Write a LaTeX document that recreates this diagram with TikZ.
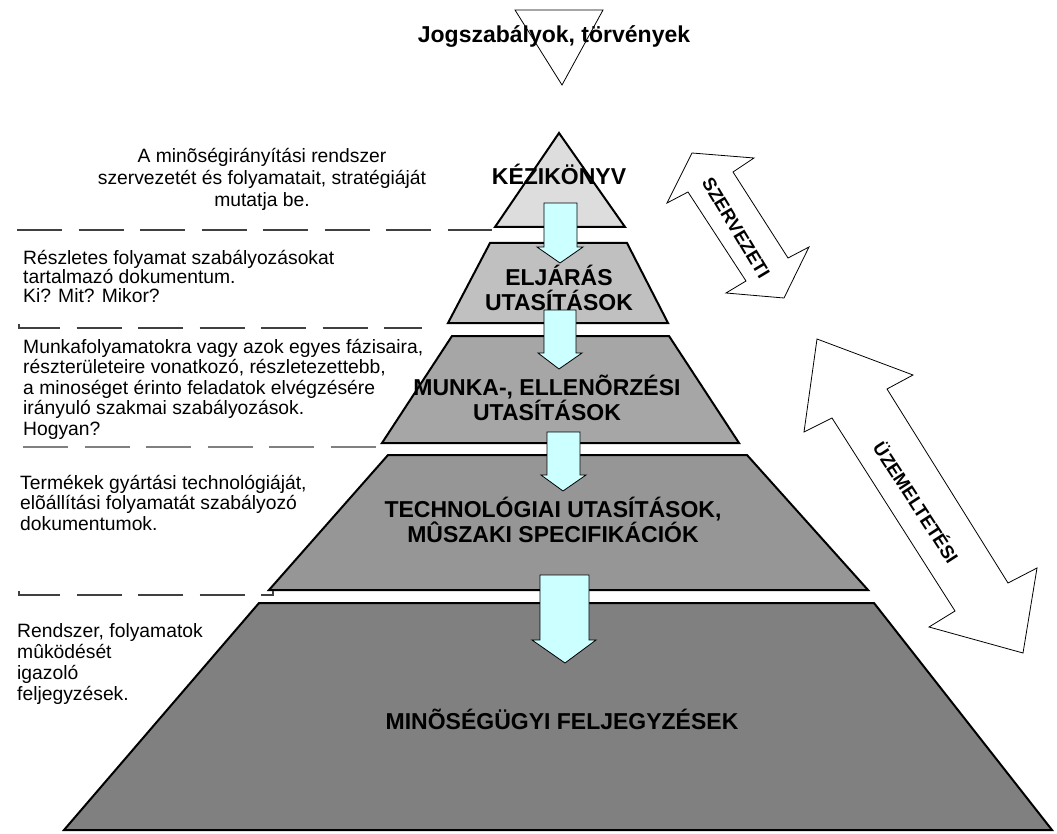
\documentclass[tikz,border=0pt]{standalone}
\usepackage{fontspec}
\setmainfont{Liberation Sans}
\usetikzlibrary{positioning}
\definecolor{reteg1}{HTML}{DDDDDD}
\definecolor{reteg2}{HTML}{C0C0C0}
\definecolor{reteg3}{HTML}{A6A6A6}
\definecolor{reteg4}{HTML}{969696}
\definecolor{reteg5}{HTML}{808080}
\definecolor{halvanykek}{HTML}{CCFFFF}

\begin{document}
\begin{tikzpicture}[x=1pt, y=-1pt,
	reteg/.style={draw=black, line width=2pt},
	lenyil/.style={draw=black, line width=0.8pt, fill=halvanykek},
	ketnyil/.style={draw=black, line width=0.8pt, fill=white},
	szaggatott/.style={draw=black!75, line width=1.4pt, dash pattern=on 45pt off 16.5pt}]
	\useasboundingbox (0,0) rectangle (1057,834);

	\draw[line width=0.8pt] (515,10) -- (603,10) -- (562,85) -- cycle;

	\draw[reteg, fill=reteg1] (559,133) -- (625,227) -- (495,227) -- cycle;
	\draw[reteg, fill=reteg2] (490,243) -- (627,243) -- (668,323) -- (448,323) -- cycle;
	\draw[reteg, fill=reteg3] (452,336) -- (669,336) -- (739,443) -- (382,443) -- cycle;
	\draw[reteg, fill=reteg4] (388,455) -- (747,455) -- (868,590) -- (269,590) -- cycle;
	\draw[reteg, fill=reteg5] (259,603) -- (874,603) -- (1052,830) -- (64,830) -- cycle;

	\draw[lenyil] (544,203) -- (577,203) -- (577,247) -- (583,247) -- (560,263) -- (537,247) -- (544,247) -- cycle;
	\draw[lenyil] (544,310) -- (576,310) -- (576,353) -- (582,353) -- (559,369) -- (538,353) -- (544,353) -- cycle;
	\draw[lenyil] (547,432) -- (580,432) -- (580,475) -- (586,475) -- (563,491) -- (541,475) -- (547,475) -- cycle;
	\draw[lenyil] (540,575) -- (589,575) -- (589,640) -- (596,640) -- (565,663) -- (532,640) -- (540,640) -- cycle;

	\draw[ketnyil] (692,153) -- (754,158) -- (733,172) -- (788,258) -- (809,247) -- (784,298) -- (726,293) -- (746,281) -- (688,192) -- (667,203) -- cycle;
	\draw[ketnyil] (817,339) -- (913,375) -- (887,389) -- (1008,583) -- (1037,568) -- (1023,653) -- (929,627) -- (955,611) -- (832,418) -- (804,432) -- cycle;

	\draw[szaggatott] (17,230) -- (492,230);
	\draw[szaggatott] (19,324) -- (19,328) -- (422,328);
	\draw[szaggatott, draw=black!50] (23,447) -- (377,447);
	\draw[szaggatott] (19,591) -- (19,595) -- (273,595) -- (273,591);

	\begin{scope}[every node/.style={font=\bfseries\fontsize{23}{25}\selectfont, align=center, inner sep=0pt, anchor=base}]
		\node (jogszab) at (554,43) {Jogszabályok, törvények};
		\node (kezikonyv) at (559,185) {KÉZIKÖNYV};
		\node (eljaras) at (559,310) {ELJÁRÁS\\UTASÍTÁSOK};
		\node (munka) at (547,420) {MUNKA-, ELLENÕRZÉSI\\UTASÍTÁSOK};
		\node (techn) at (553,542) {TECHNOLÓGIAI UTASÍTÁSOK,\\MÛSZAKI SPECIFIKÁCIÓK};
		\node (feljegyz) at (562,729) {MINÕSÉGÜGYI FELJEGYZÉSEK};
	\end{scope}

	\begin{scope}[every node/.style={font=\bfseries\fontsize{18.5}{20}\selectfont, inner sep=0pt}]
		\node[rotate=-59] (szervezeti) at (736,228) {SZERVEZETI};
		\node[rotate=-57] (uzemeltetesi) at (917,502) {ÜZEMELTETÉSI};
	\end{scope}

	\begin{scope}[every node/.style={inner sep=0pt, anchor=base west}]
		\node[anchor=base, align=center, font=\fontsize{19.3}{22}\selectfont] (leiras1) at (262,207) {A minõségirányítási rendszer\\szervezetét és folyamatait, stratégiáját\\mutatja be.};
		\node[align=left, font=\fontsize{19.3}{19}\selectfont] (leiras2) at (23,302) {Részletes folyamat szabályozásokat\\tartalmazó dokumentum.\\Ki? Mit? Mikor?};
		\node[align=left, font=\fontsize{19.3}{20.5}\selectfont] (leiras3) at (23,435) {Munkafolyamatokra vagy azok egyes fázisaira,\\részterületeire vonatkozó, részletezettebb,\\a minoséget érinto feladatok elvégzésére\\irányuló szakmai szabályozások.\\Hogyan?};
		\node[align=left, font=\fontsize{19.3}{20.5}\selectfont] (leiras4) at (20,530) {Termékek gyártási technológiáját,\\elõállítási folyamatát szabályozó\\dokumentumok.};
		\node[align=left, font=\fontsize{19.3}{21}\selectfont] (leiras5) at (17,700) {Rendszer, folyamatok\\mûködését\\igazoló\\feljegyzések.};
	\end{scope}
\end{tikzpicture}
\end{document}
